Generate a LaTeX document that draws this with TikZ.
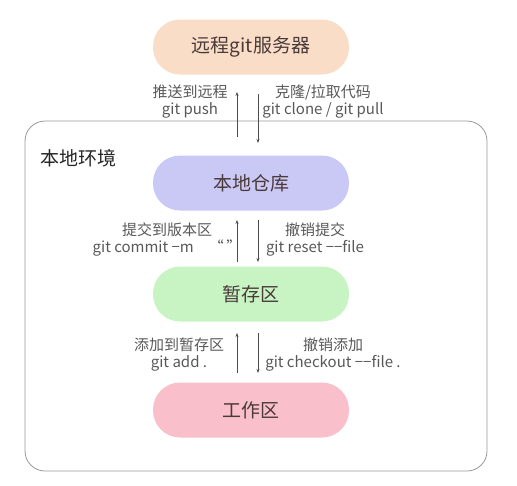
\documentclass[tikz,border=0pt]{standalone}
\usepackage{fontspec}
\setmainfont{Noto Sans CJK SC}
\usetikzlibrary{arrows.meta}
\definecolor{remotefill}{RGB}{249,221,199}
\definecolor{repofill}{RGB}{202,200,245}
\definecolor{stagefill}{RGB}{200,244,196}
\definecolor{workfill}{RGB}{249,192,204}
\definecolor{pilltext}{RGB}{74,58,58}
\definecolor{labeltext}{RGB}{88,88,88}
\tikzset{
	pill/.style={rounded corners=27pt, minimum width=196pt, minimum height=55pt, inner sep=0pt, text=pilltext, font=\fontsize{19}{22}\selectfont},
	cmd/.style={align=center, text=labeltext, font=\fontsize{15}{17}\selectfont, inner sep=0pt},
	flow/.style={draw=black!70, line width=0.6pt, -{Stealth[length=4pt,width=3pt]}},
	frame/.style={draw=black!40, line width=0.8pt, rounded corners=20pt}
}
\begin{document}
\begin{tikzpicture}[x=1pt,y=-1pt]
		\useasboundingbox (0,0) rectangle (517,485);
		\draw [frame] (25,121) rectangle (487,471);
		\node [anchor=west, font=\fontsize{19}{22}\selectfont, text=black!85, inner sep=0pt] (env) at (40,158) {本地环境};
		\node [pill, fill=remotefill] (remote) at (251,47) {远程git服务器};
		\node [pill, fill=repofill] (repo) at (251,183) {本地仓库};
		\node [pill, fill=stagefill] (stage) at (251,294) {暂存区};
		\node [pill, fill=workfill] (work) at (251,410) {工作区};
		% remote <-> repo
		\coordinate (pushA) at (237,137);
		\coordinate (pushB) at (237,92);
		\coordinate (pullA) at (258,94);
		\coordinate (pullB) at (258,143);
		\draw [flow] (pushA) -- (pushB);
		\draw [flow] (pullA) -- (pullB);
		\node [cmd] (push) at (190,102) {推送到远程\\git push};
		\node [cmd] (pull) at (323,102) {克隆/拉取代码\\git clone / git pull};
		% repo <-> stage
		\coordinate (commitA) at (237,262);
		\coordinate (commitB) at (237,220);
		\coordinate (resetA) at (258,220);
		\coordinate (resetB) at (258,262);
		\draw [flow] (commitA) -- (commitB);
		\draw [flow] (resetA) -- (resetB);
		\node [cmd] (commit) at (167,240) {提交到版本区\\git commit −m\quad “\,”};
		\node [cmd] (reset) at (315,240) {撤销提交\\git reset −−file};
		% stage <-> work
		\coordinate (addA) at (237,373);
		\coordinate (addB) at (237,333);
		\coordinate (checkoutA) at (258,333);
		\coordinate (checkoutB) at (258,373);
		\draw [flow] (addA) -- (addB);
		\draw [flow] (checkoutA) -- (checkoutB);
		\node [cmd] (add) at (179,355) {添加到暂存区\\git add .};
		\node [cmd] (checkout) at (333,355) {撤销添加\\git checkout −−file .};
	\end{tikzpicture}
\end{document}
